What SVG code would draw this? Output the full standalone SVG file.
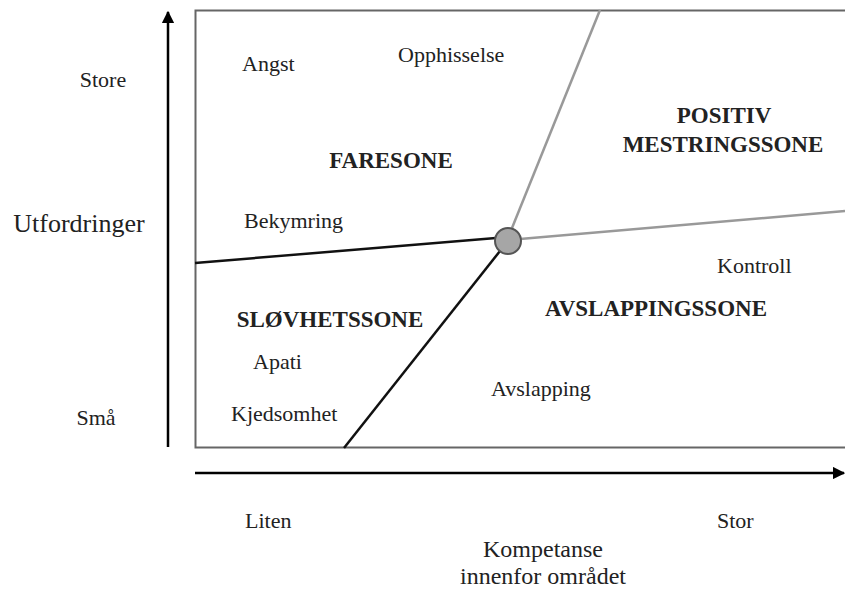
<svg xmlns="http://www.w3.org/2000/svg" width="845" height="592" viewBox="0 0 845 592">
<defs>
<style>
text{font-family:"Liberation Serif","Times New Roman",serif;fill:#222;font-size:22px}
.b{font-weight:bold;font-size:23px}
.big{font-size:26px}
.ax{font-size:24px}
</style>
<marker id="ah" viewBox="0 0 10 10" refX="9" refY="5" markerWidth="5" markerHeight="5" orient="auto" markerUnits="strokeWidth">
<path d="M0,0 L10,5 L0,10 z" fill="#000"/>
</marker>
</defs>
<rect width="845" height="592" fill="#fff"/>
<g id="frame">
<path d="M850,10.5 H195.5 V447.5 H850" fill="none" stroke="#666" stroke-width="2"/>
</g>
<g id="axes">
<line x1="168" y1="447" x2="168" y2="12" stroke="#000" stroke-width="2.5" marker-end="url(#ah)"/>
<line x1="195" y1="473" x2="844" y2="473" stroke="#000" stroke-width="2.5" marker-end="url(#ah)"/>
</g>
<g id="connectors">
<line x1="195" y1="263" x2="496" y2="238" stroke="#111" stroke-width="2.5"/>
<line x1="344" y1="448" x2="500" y2="251" stroke="#111" stroke-width="2.5"/>
<line x1="520" y1="239" x2="845" y2="211" stroke="#999" stroke-width="2.5"/>
<line x1="512" y1="228" x2="600" y2="10" stroke="#999" stroke-width="2.5"/>
</g>
<g id="center">
<circle cx="508" cy="241" r="13" fill="#a6a6a6" stroke="#555" stroke-width="2"/>
</g>
<g id="labels">
<text x="103" y="87" text-anchor="middle">Store</text>
<text x="79" y="232" text-anchor="middle" class="big">Utfordringer</text>
<text x="96" y="425" text-anchor="middle">Små</text>
<text x="242" y="71">Angst</text>
<text x="398" y="62">Opphisselse</text>
<text x="391" y="168" text-anchor="middle" class="b">FARESONE</text>
<text x="724" y="123" text-anchor="middle" class="b">POSITIV</text>
<text x="723" y="152" text-anchor="middle" class="b">MESTRINGSSONE</text>
<text x="244" y="228">Bekymring</text>
<text x="717" y="273">Kontroll</text>
<text x="330" y="327" text-anchor="middle" class="b">SLØVHETSSONE</text>
<text x="656" y="316" text-anchor="middle" class="b">AVSLAPPINGSSONE</text>
<text x="253" y="369">Apati</text>
<text x="491" y="396">Avslapping</text>
<text x="231" y="421">Kjedsomhet</text>
<text x="245" y="528">Liten</text>
<text x="717" y="528">Stor</text>
<text x="543" y="557" text-anchor="middle" class="ax">Kompetanse</text>
<text x="543" y="584" text-anchor="middle" class="ax">innenfor området</text>
</g>
</svg>
